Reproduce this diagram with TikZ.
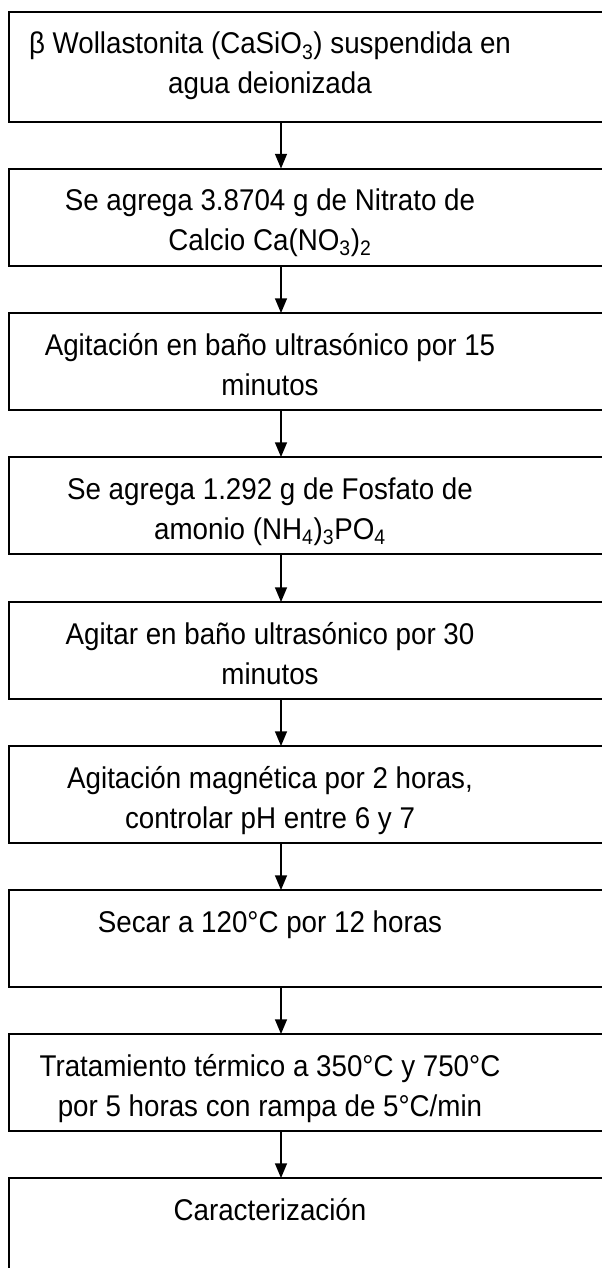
\documentclass[tikz,border=0pt]{standalone}
\usepackage{fontspec}
\setmainfont{Liberation Sans}[FakeStretch=0.925]
\usetikzlibrary{arrows.meta}
\newcommand{\steptext}[2]{\parbox[c][#1][t]{390pt}{\centering\fontsize{22.5pt}{30pt}\selectfont\rule{0pt}{31.5pt}#2}}

\begin{document}
\begin{tikzpicture}[x=0.75pt,y=-0.75pt,
    stepbox/.style={inner sep=0pt, anchor=north},
    frame/.style={line width=1.5pt},
    flecha/.style={-{Triangle[width=9pt,length=11pt]}, line width=1pt}]
    \path[use as bounding box, clip] (0,0) rectangle (602,1268);
    \coordinate (L) at (9.3,0);
    \coordinate (R) at (660,0);
    \coordinate (A) at (281,0);

    \node[stepbox] (s1) at (270,11.7) {\steptext{82.5pt}{β Wollastonita (CaSiO\textsubscript{3}) suspendida en\\agua deionizada}};
    \node[stepbox] (s2) at (270,168.5) {\steptext{72.5pt}{Se agrega 3.8704 g de Nitrato de\\Calcio Ca(NO\textsubscript{3})\textsubscript{2}}};
    \node[stepbox] (s3) at (270,313) {\steptext{72pt}{Agitación en baño ultrasónico por 15\\minutos}};
    \node[stepbox] (s4) at (270,457) {\steptext{72.5pt}{Se agrega 1.292 g de Fosfato de\\amonio (NH\textsubscript{4})\textsubscript{3}PO\textsubscript{4}}};
    \node[stepbox] (s5) at (270,602) {\steptext{72pt}{Agitar en baño ultrasónico por 30\\minutos}};
    \node[stepbox] (s6) at (270,746) {\steptext{72pt}{Agitación magnética por 2 horas,\\controlar pH entre 6 y 7}};
    \node[stepbox] (s7) at (270,890) {\steptext{72pt}{Secar a 120°C por 12 horas}};
    \node[stepbox] (s8) at (270,1034) {\steptext{72pt}{Tratamiento térmico a 350°C y 750°C\\por 5 horas con rampa de 5°C/min}};
    \node[stepbox] (s9) at (270,1178) {\steptext{90pt}{Caracterización}};

    \foreach \i in {1,...,9}
        \draw[frame] (s\i.north -| L) rectangle (s\i.south -| R);
    \foreach \i [count=\j from 2] in {1,...,8}
        \draw[flecha] (s\i.south -| A) -- (s\j.north -| A);
\end{tikzpicture}
\end{document}
